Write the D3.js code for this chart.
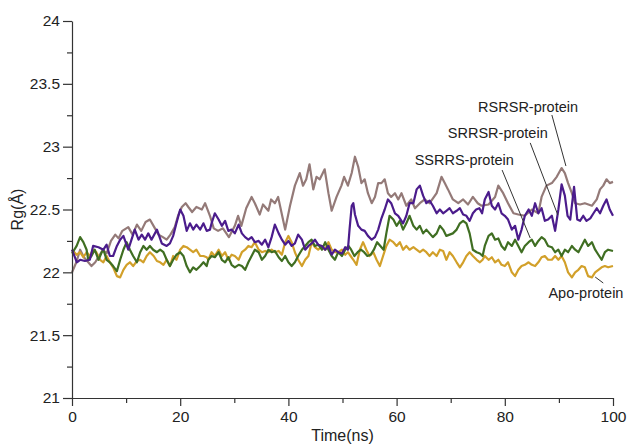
<!DOCTYPE html>
<html><head><meta charset="utf-8">
<script src="https://cdn.jsdelivr.net/npm/d3@7"></script>
<style>
body{margin:0;background:#fff;}
text{font-family:"Liberation Sans",Arial,sans-serif;fill:#222;}
</style></head>
<body><svg id="c" width="630" height="444"></svg>
<script>
const xTicks=[0,20,40,60,80,100];
const xMinor=[10,30,50,70,90];
const yTicks=[21,21.5,22,22.5,23,23.5,24];
const yTickLabels=["21","21.5","22","22.5","23","23.5","24"];
const yMinor=[21.25,21.75,22.25,22.75,23.25,23.75];
const seriesNames=["RSRSR-protein","SRRSR-protein","SSRRS-protein","Apo-protein"];

const rsrsr=[[0,22.0],[0.8,22.08],[1.5,22.18],[2.2,22.12],[3.0,22.08],[3.6,22.05],[4.3,22.08],[5.0,22.13],[5.7,22.18],[6.4,22.15],[7.2,22.25],[8.0,22.3],[8.6,22.27],[9.3,22.33],[10.4,22.36],[11.2,22.3],[12.0,22.38],[12.8,22.33],[13.6,22.4],[14.4,22.42],[15.2,22.36],[16.0,22.3],[16.8,22.28],[17.5,22.26],[18.2,22.3],[19.0,22.36],[19.6,22.45],[20.3,22.52],[21.0,22.55],[21.5,22.52],[22.2,22.48],[23.0,22.52],[24.0,22.5],[24.6,22.55],[25.5,22.45],[26.2,22.35],[27.0,22.33],[27.9,22.35],[29.0,22.28],[30.1,22.37],[30.7,22.45],[31.3,22.37],[32.2,22.51],[33.2,22.6],[33.8,22.55],[34.7,22.46],[35.3,22.54],[36.3,22.49],[36.8,22.58],[37.5,22.55],[38.1,22.6],[39.0,22.42],[39.4,22.34],[40.3,22.53],[41.2,22.69],[42.1,22.79],[42.7,22.69],[43.3,22.74],[43.9,22.86],[44.6,22.66],[45.2,22.76],[45.8,22.74],[46.7,22.82],[47.4,22.63],[48.0,22.49],[48.9,22.6],[49.8,22.69],[50.3,22.76],[51.0,22.69],[51.7,22.79],[52.3,22.92],[52.9,22.84],[53.5,22.71],[54.1,22.74],[54.7,22.63],[55.4,22.55],[56.0,22.6],[56.6,22.71],[57.2,22.71],[57.8,22.74],[58.4,22.63],[59.0,22.6],[59.7,22.63],[60.3,22.58],[60.9,22.63],[61.8,22.53],[62.7,22.58],[63.4,22.51],[64.3,22.55],[65.2,22.58],[66.1,22.55],[67.4,22.63],[68.3,22.76],[68.9,22.71],[69.5,22.66],[70.4,22.58],[71.4,22.55],[72.3,22.58],[73.2,22.54],[74.1,22.6],[75.0,22.55],[75.7,22.53],[77.0,22.54],[78.2,22.6],[78.8,22.69],[79.7,22.63],[80.6,22.55],[81.6,22.47],[82.5,22.46],[83.7,22.45],[85.0,22.5],[86.2,22.47],[86.8,22.6],[87.7,22.69],[88.7,22.71],[89.6,22.76],[90.5,22.83],[91.1,22.79],[91.7,22.71],[92.4,22.63],[93.0,22.55],[93.9,22.54],[94.8,22.55],[96.1,22.53],[97.0,22.58],[97.6,22.66],[98.2,22.69],[98.8,22.74],[99.4,22.71],[100,22.72]];

const srrsr=[[0,22.18],[0.9,22.08],[1.5,22.1],[2.4,22.09],[3.3,22.1],[3.9,22.21],[4.9,22.2],[5.8,22.18],[6.4,22.22],[7.0,22.13],[7.6,22.13],[8.3,22.21],[8.9,22.26],[9.5,22.29],[10.4,22.18],[11.0,22.26],[11.6,22.34],[12.3,22.26],[12.9,22.3],[13.5,22.26],[14.1,22.31],[14.7,22.26],[15.7,22.34],[16.6,22.23],[17.5,22.21],[18.1,22.23],[18.7,22.29],[19.3,22.39],[20.0,22.5],[20.6,22.45],[21.2,22.33],[21.8,22.39],[22.4,22.34],[23.0,22.38],[23.7,22.34],[24.3,22.39],[24.9,22.33],[25.5,22.34],[25.8,22.39],[26.4,22.47],[27.1,22.42],[27.7,22.37],[28.3,22.41],[28.9,22.33],[29.5,22.34],[30.1,22.31],[30.8,22.38],[31.4,22.31],[32.0,22.28],[32.6,22.26],[33.2,22.28],[33.8,22.24],[34.5,22.25],[35.1,22.22],[35.7,22.26],[36.3,22.2],[36.9,22.28],[37.5,22.38],[38.2,22.31],[38.8,22.26],[39.4,22.22],[40.0,22.25],[40.6,22.21],[41.2,22.23],[41.8,22.3],[42.5,22.26],[43.1,22.18],[43.7,22.21],[44.3,22.23],[44.9,22.26],[45.5,22.22],[46.2,22.21],[46.8,22.18],[47.4,22.21],[48.0,22.14],[48.6,22.18],[49.2,22.16],[49.9,22.15],[50.5,22.2],[51.0,22.18],[51.3,22.34],[51.7,22.53],[52.0,22.55],[52.3,22.46],[52.9,22.37],[53.5,22.34],[54.1,22.33],[54.7,22.29],[55.4,22.26],[56.0,22.28],[56.6,22.34],[57.2,22.43],[57.8,22.5],[58.4,22.58],[59.0,22.55],[59.7,22.47],[60.3,22.45],[61.2,22.39],[61.8,22.45],[62.4,22.55],[63.1,22.55],[63.7,22.66],[64.3,22.69],[64.9,22.61],[65.5,22.55],[66.1,22.57],[66.7,22.53],[67.4,22.47],[68.0,22.5],[68.6,22.47],[69.2,22.49],[69.8,22.51],[70.4,22.47],[71.1,22.49],[71.7,22.51],[72.3,22.46],[72.9,22.45],[73.5,22.41],[74.1,22.47],[74.7,22.5],[75.3,22.51],[75.8,22.47],[76.3,22.58],[77.0,22.64],[77.6,22.53],[78.2,22.5],[78.8,22.55],[79.4,22.47],[80.0,22.45],[80.6,22.42],[81.3,22.34],[81.9,22.37],[82.5,22.26],[83.1,22.34],[83.7,22.45],[84.4,22.5],[85.0,22.45],[85.6,22.55],[86.2,22.47],[86.8,22.51],[87.4,22.41],[88.0,22.42],[88.7,22.45],[89.3,22.33],[89.9,22.5],[90.5,22.7],[91.1,22.61],[91.6,22.45],[92.1,22.42],[92.8,22.68],[93.4,22.42],[93.9,22.41],[94.5,22.45],[95.1,22.41],[95.8,22.43],[96.4,22.47],[97.0,22.51],[97.6,22.47],[98.2,22.53],[98.8,22.58],[99.4,22.5],[100,22.45]];

const ssrrs=[[0,22.15],[0.86,22.21],[1.5,22.28],[2.1,22.24],[2.7,22.18],[3.0,22.1],[3.6,22.13],[4.2,22.18],[4.9,22.1],[5.5,22.16],[5.8,22.18],[6.4,22.1],[7.0,22.08],[7.6,22.05],[8.3,22.01],[8.9,22.1],[9.5,22.18],[10.1,22.24],[10.7,22.18],[11.3,22.13],[12.0,22.08],[12.6,22.16],[13.2,22.21],[13.8,22.18],[14.4,22.21],[15.0,22.18],[15.7,22.16],[16.3,22.18],[16.9,22.16],[17.5,22.1],[18.1,22.05],[18.7,22.1],[19.3,22.14],[20.0,22.16],[20.6,22.13],[21.2,22.05],[21.8,22.0],[22.4,22.04],[23.0,22.02],[23.7,22.05],[24.3,22.08],[24.9,22.05],[25.2,22.1],[25.8,22.13],[26.4,22.12],[27.1,22.16],[27.7,22.1],[28.3,22.08],[28.9,22.12],[29.5,22.06],[30.1,22.04],[30.8,22.06],[31.4,22.05],[32.0,22.02],[32.6,22.08],[33.2,22.13],[33.8,22.18],[34.5,22.16],[35.1,22.1],[35.7,22.13],[36.3,22.18],[36.9,22.16],[37.5,22.17],[38.2,22.12],[38.8,22.09],[39.4,22.13],[40.0,22.08],[40.6,22.05],[41.2,22.08],[41.8,22.13],[42.5,22.18],[43.1,22.21],[43.7,22.24],[44.3,22.26],[44.9,22.21],[45.5,22.22],[46.2,22.18],[46.8,22.24],[47.4,22.18],[48.0,22.13],[48.6,22.1],[49.2,22.16],[49.9,22.13],[50.5,22.18],[51.1,22.21],[51.6,22.18],[52.2,22.13],[52.8,22.16],[53.4,22.18],[54.0,22.16],[54.6,22.13],[55.2,22.14],[55.8,22.18],[56.4,22.24],[57.0,22.21],[57.6,22.18],[58.1,22.31],[58.7,22.45],[59.4,22.42],[60.0,22.37],[60.6,22.41],[61.2,22.34],[61.8,22.39],[62.4,22.45],[63.1,22.37],[63.7,22.34],[64.3,22.37],[64.9,22.31],[65.5,22.34],[66.1,22.31],[66.7,22.28],[67.4,22.31],[68.0,22.37],[68.6,22.34],[69.2,22.29],[69.8,22.3],[70.4,22.31],[71.1,22.34],[71.7,22.39],[72.3,22.41],[72.9,22.39],[73.5,22.31],[74.1,22.18],[74.8,22.16],[75.4,22.15],[75.9,22.13],[76.3,22.21],[77.0,22.29],[77.6,22.31],[78.2,22.26],[78.8,22.27],[79.4,22.21],[80.0,22.18],[80.6,22.24],[81.3,22.21],[81.9,22.26],[82.5,22.21],[83.1,22.16],[83.7,22.21],[84.4,22.24],[85.0,22.26],[85.6,22.21],[86.2,22.25],[86.8,22.28],[87.4,22.26],[88.0,22.21],[88.7,22.2],[89.3,22.16],[89.9,22.18],[90.5,22.13],[91.1,22.18],[91.7,22.16],[92.4,22.21],[93.0,22.18],[93.6,22.16],[94.2,22.21],[94.8,22.26],[95.4,22.21],[96.1,22.24],[96.7,22.18],[97.3,22.14],[97.9,22.1],[98.5,22.16],[99.1,22.18],[100,22.17]];

const apo=[[0,22.18],[0.86,22.14],[1.5,22.16],[2.1,22.12],[2.7,22.16],[3.3,22.13],[3.9,22.18],[4.5,22.16],[5.2,22.1],[5.8,22.08],[6.4,22.13],[7.0,22.08],[7.6,22.04],[8.3,21.97],[8.9,21.96],[9.5,22.02],[10.1,22.06],[10.7,22.08],[11.3,22.05],[12.0,22.09],[12.6,22.1],[13.2,22.08],[13.8,22.13],[14.4,22.16],[15.1,22.13],[15.7,22.09],[16.3,22.08],[16.9,22.06],[17.5,22.1],[18.1,22.05],[18.7,22.13],[19.3,22.1],[20.0,22.18],[20.6,22.21],[21.2,22.2],[21.8,22.18],[22.4,22.16],[23.0,22.18],[23.7,22.13],[24.3,22.13],[24.9,22.12],[25.2,22.1],[25.8,22.16],[26.4,22.13],[27.1,22.18],[27.7,22.13],[28.3,22.16],[28.9,22.1],[29.5,22.14],[30.1,22.13],[30.8,22.1],[31.4,22.16],[32.0,22.18],[32.6,22.21],[33.2,22.2],[33.8,22.24],[34.5,22.18],[35.1,22.16],[35.7,22.17],[36.3,22.16],[36.9,22.18],[37.5,22.16],[38.2,22.17],[38.8,22.14],[39.4,22.24],[40.0,22.29],[40.6,22.24],[41.2,22.16],[41.8,22.1],[42.5,22.05],[43.1,22.1],[43.7,22.13],[44.3,22.24],[44.9,22.2],[45.5,22.18],[46.2,22.21],[46.8,22.18],[47.4,22.24],[48.0,22.18],[48.6,22.16],[49.2,22.16],[49.9,22.18],[50.5,22.14],[51.0,22.16],[51.5,22.13],[52.0,22.1],[52.6,22.06],[53.2,22.18],[53.8,22.24],[54.4,22.18],[55.0,22.13],[55.7,22.16],[56.3,22.1],[56.9,22.05],[57.5,22.13],[58.1,22.21],[58.7,22.26],[59.4,22.24],[60.0,22.21],[60.6,22.24],[61.2,22.18],[61.8,22.21],[62.4,22.18],[63.1,22.2],[63.7,22.18],[64.3,22.16],[64.9,22.18],[65.5,22.16],[66.1,22.13],[66.7,22.16],[67.4,22.13],[68.0,22.18],[68.6,22.17],[69.2,22.1],[69.8,22.16],[70.4,22.13],[71.1,22.08],[71.7,22.04],[72.3,22.08],[72.9,22.13],[73.5,22.16],[74.1,22.13],[74.8,22.1],[75.4,22.08],[75.9,22.1],[76.3,22.13],[77.0,22.1],[77.6,22.12],[78.2,22.08],[78.8,22.1],[79.4,22.06],[80.0,22.05],[80.6,22.08],[81.3,22.0],[81.9,21.97],[82.5,22.02],[83.1,22.05],[83.7,22.06],[84.4,22.08],[85.0,22.06],[85.6,22.05],[86.2,22.08],[86.8,22.12],[87.4,22.13],[88.0,22.1],[88.7,22.1],[89.3,22.13],[89.9,22.1],[90.5,22.13],[91.1,22.08],[91.7,22.0],[92.4,21.96],[93.0,22.0],[93.6,22.02],[94.2,22.05],[94.8,22.04],[95.4,21.97],[96.1,21.96],[96.7,22.0],[97.3,22.02],[97.9,22.04],[98.5,22.05],[99.1,22.04],[100,22.05]];

// label anchors in data units: [textT, textV, lineT1, lineV1, lineT2, lineV2]
const labelAnchors=[[84.3,23.316,88.7,23.252,91.3,22.846],[78.7,23.109,84.7,23.03,89.8,22.456],[72.5,22.894,79.5,22.814,84.7,22.273],[95.0,21.836,98.2,21.915,96.7,21.963]];

const colors={rsrsr:"#947a78",srrsr:"#4b1c8c",ssrrs:"#3f6e22",apo:"#d2a02a"};

const svg=d3.select("#c");
const x=d3.scaleLinear().domain([0,100]).range([72,613]);
const y=d3.scaleLinear().domain([21,24]).range([398,21]);

const line=d3.line().x(d=>x(d[0])).y(d=>y(d[1]));
const order=[["rsrsr",rsrsr],["apo",apo],["ssrrs",ssrrs],["srrsr",srrsr]];
svg.append("g").selectAll("path").data(order).join("path")
  .attr("d",d=>line(d[1])).attr("fill","none").attr("stroke",d=>colors[d[0]])
  .attr("stroke-width",2.2).attr("stroke-linejoin","round");

// axes
svg.append("g").attr("transform",`translate(0,${y(21)})`)
  .call(d3.axisBottom(x).tickValues(xTicks).tickSize(8).tickSizeOuter(0).tickPadding(5));
svg.append("g").attr("transform",`translate(0,${y(21)})`)
  .call(d3.axisBottom(x).tickValues(xMinor).tickSize(5).tickFormat(""))
  .select(".domain").remove();
svg.append("g").attr("transform",`translate(${x(0)},0)`)
  .call(d3.axisLeft(y).tickValues(yTicks).tickSize(9).tickSizeOuter(0).tickPadding(3).tickFormat((d,i)=>yTickLabels[i]));
svg.append("g").attr("transform",`translate(${x(0)},0)`)
  .call(d3.axisLeft(y).tickValues(yMinor).tickSize(5).tickFormat(""))
  .select(".domain").remove();
svg.selectAll(".tick text").attr("font-size",15.5).attr("font-family","Liberation Sans, Arial, sans-serif").attr("fill","#222");
svg.selectAll(".domain,.tick line").attr("stroke","#333").attr("stroke-width",1.2);

svg.append("text").attr("x",(x(0)+x(100))/2).attr("y",441).attr("text-anchor","middle")
  .attr("font-size",16).text("Time(ns)");
svg.append("text").attr("transform",`translate(23,${y(22.5)}) rotate(-90)`).attr("text-anchor","middle")
  .attr("font-size",16).text("Rg(Å)");

// annotations
const ann=svg.append("g");
labelAnchors.forEach((a,i)=>{
  ann.append("line").attr("x1",x(a[2])).attr("y1",y(a[3])).attr("x2",x(a[4])).attr("y2",y(a[5]))
    .attr("stroke","#333").attr("stroke-width",1);
  ann.append("text").attr("x",x(a[0])).attr("y",y(a[1])).attr("dy","0.35em").attr("text-anchor","middle")
    .attr("font-size",14.5).text(seriesNames[i]);
});
</script></body></html>
